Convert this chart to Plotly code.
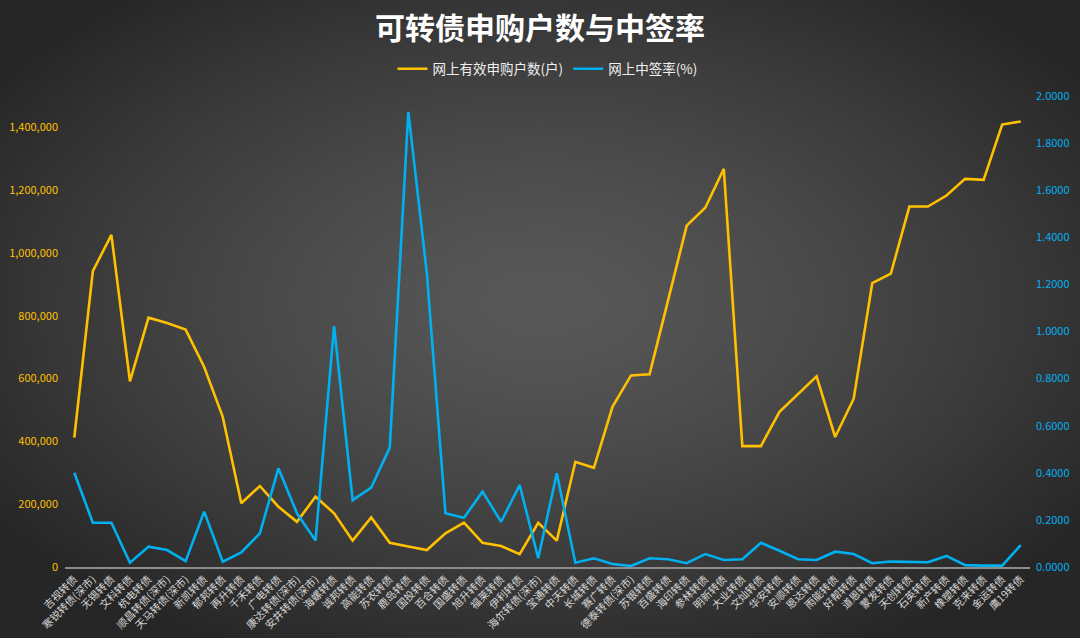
"""
可转债申购户数与中签率 - dual-axis line chart on a dark radial background.
"""
import base64
import struct
import zlib

import plotly.graph_objects as go

# ---- data ----
bonds = [
    "吉视转债", "寒锐转债(深市)", "无锡转债", "文科转债", "杭电转债", "顺昌转债(深市)",
    "天马转债(深市)", "新凯转债", "郁邦转债", "再升转债", "千禾转债", "广电转债",
    "康达转债(深市)", "安井转债(深市)", "海螺转债", "诚邦转债", "高能转债", "苏农转债",
    "鹿岛转债", "国投转债", "百合转债", "国盛转债", "旭升转债", "福莱转债",
    "伊利转债", "海尔转债(深市)", "宝通转债", "中天转债", "长城转债", "赛广转债",
    "德泰转债(深市)", "苏银转债", "百盛转债", "海印转债", "参林转债", "明新转债",
    "大业转债", "文灿转债", "华安转债", "安顺转债", "恩达转债", "雨能转债",
    "好帮转债", "道恩转债", "蒙发转债", "天创转债", "石英转债", "新产转债",
    "橡塑转债", "克来转债", "金运转债", "鹰19转债",
]
households = [
    412000, 942000, 1058000, 591000, 794000, 777000,
    756000, 637000, 478000, 203000, 258000, 192000,
    144000, 224000, 171000, 84000, 158000, 77000,
    65000, 54000, 107000, 141000, 77000, 67000,
    41000, 141000, 84000, 335000, 316000, 510000,
    610000, 614000, 850000, 1087000, 1144000, 1268000,
    385000, 385000, 494000, 552000, 607000, 414000,
    536000, 904000, 934000, 1148000, 1148000, 1183000,
    1236000, 1233000, 1409000, 1419000,
]
win_rate = [
    0.400, 0.188, 0.188, 0.018, 0.086, 0.072,
    0.025, 0.235, 0.023, 0.062, 0.143, 0.419,
    0.228, 0.112, 1.023, 0.284, 0.337, 0.507,
    1.933, 1.247, 0.228, 0.209, 0.320, 0.192,
    0.348, 0.037, 0.398, 0.018, 0.037, 0.013,
    0.004, 0.037, 0.033, 0.016, 0.055, 0.030,
    0.033, 0.103, 0.069, 0.033, 0.030, 0.065,
    0.055, 0.016, 0.023, 0.020, 0.020, 0.047,
    0.008, 0.006, 0.006, 0.093,
]

ORANGE = "#FFC000"
BLUE = "#00B0F0"
W, H = 1080, 638
M_L, M_R, M_T, M_B = 65, 50, 96, 71


def _radial_png(w=216, h=128, inner=(88, 88, 88), outer=(38, 38, 38)):
    """Tiny radial-gradient PNG used as the page background."""
    rows = b""
    cx, cy = w * 0.5, h * 0.47
    for j in range(h):
        row = bytearray([0])
        for i in range(w):
            dx = (i - cx) / (w * 0.62)
            dy = (j - cy) / (h * 0.62)
            r = min(1.0, (dx * dx + dy * dy) ** 0.5)
            t = r ** 1.4
            row += bytes(int(inner[k] + (outer[k] - inner[k]) * t) for k in range(3))
        rows += bytes(row)

    def chunk(tag, data):
        c = struct.pack(">I", len(data)) + tag + data
        return c + struct.pack(">I", zlib.crc32(tag + data) & 0xFFFFFFFF)

    png = b"\x89PNG\r\n\x1a\n"
    png += chunk(b"IHDR", struct.pack(">IIBBBBB", w, h, 8, 2, 0, 0, 0))
    png += chunk(b"IDAT", zlib.compress(rows, 9))
    png += chunk(b"IEND", b"")
    return "data:image/png;base64," + base64.b64encode(png).decode("ascii")


fig = go.Figure()
fig.add_trace(go.Scatter(
    x=bonds, y=households, name="网上有效申购户数(户)",
    mode="lines", line=dict(color=ORANGE, width=2.6),
))
fig.add_trace(go.Scatter(
    x=bonds, y=win_rate, name="网上中签率(%)", yaxis="y2",
    mode="lines", line=dict(color=BLUE, width=2.6),
))

pw = W - M_L - M_R
ph = H - M_T - M_B
fig.add_layout_image(dict(
    source=_radial_png(), xref="paper", yref="paper",
    x=-M_L / pw, y=1 + M_T / ph, sizex=W / pw, sizey=H / ph,
    xanchor="left", yanchor="top", sizing="stretch", layer="below",
))

fig.update_layout(
    width=W, height=H,
    margin=dict(l=M_L, r=M_R, t=M_T, b=M_B, autoexpand=False),
    paper_bgcolor="#363636", plot_bgcolor="rgba(0,0,0,0)",
    font=dict(family="Noto Sans CJK SC, Noto Sans, sans-serif", color="#d9d9d9"),
    title=dict(
        text="<b>可转债申购户数与中签率</b>", x=0.5, xanchor="center",
        y=1 - 28 / H, yanchor="middle",
        font=dict(size=30, color="#ffffff"),
    ),
    legend=dict(
        orientation="h", x=0.5, xanchor="center", y=1 + 27 / ph, yanchor="middle",
        font=dict(size=13.5, color="#f0f0f0"), bgcolor="rgba(0,0,0,0)",
        itemwidth=30,
    ),
    showlegend=True,
    xaxis=dict(
        type="category", range=[-0.5, len(bonds) - 0.5], automargin=False,
        tickangle=-45, tickfont=dict(size=10.5, color="#d6d6d6"),
        showgrid=False, zeroline=False,
        showline=True, linecolor="#8c8c8c", linewidth=2,
        ticks="",
    ),
    yaxis=dict(
        range=[0, 1500000], tickvals=[0, 200000, 400000, 600000, 800000, 1000000, 1200000, 1400000],
        tickformat=",d", tickfont=dict(size=11, color=ORANGE), automargin=False,
        ticklabelstandoff=6,
        showgrid=False, zeroline=False, showline=False,
    ),
    yaxis2=dict(
        overlaying="y", side="right", range=[0, 2.0], dtick=0.2, automargin=False,
        tickformat=".4f", tickfont=dict(size=11, color=BLUE),
        ticklabelstandoff=5,
        showgrid=False, zeroline=False, showline=False,
    ),
)

# drop the browser's default 8px body margin so the figure sits at the page corner
fig.write_html(
    "out.html",
    config={"displayModeBar": False},
    post_script="document.body.style.margin='0';document.body.style.background='#262626';",
)
